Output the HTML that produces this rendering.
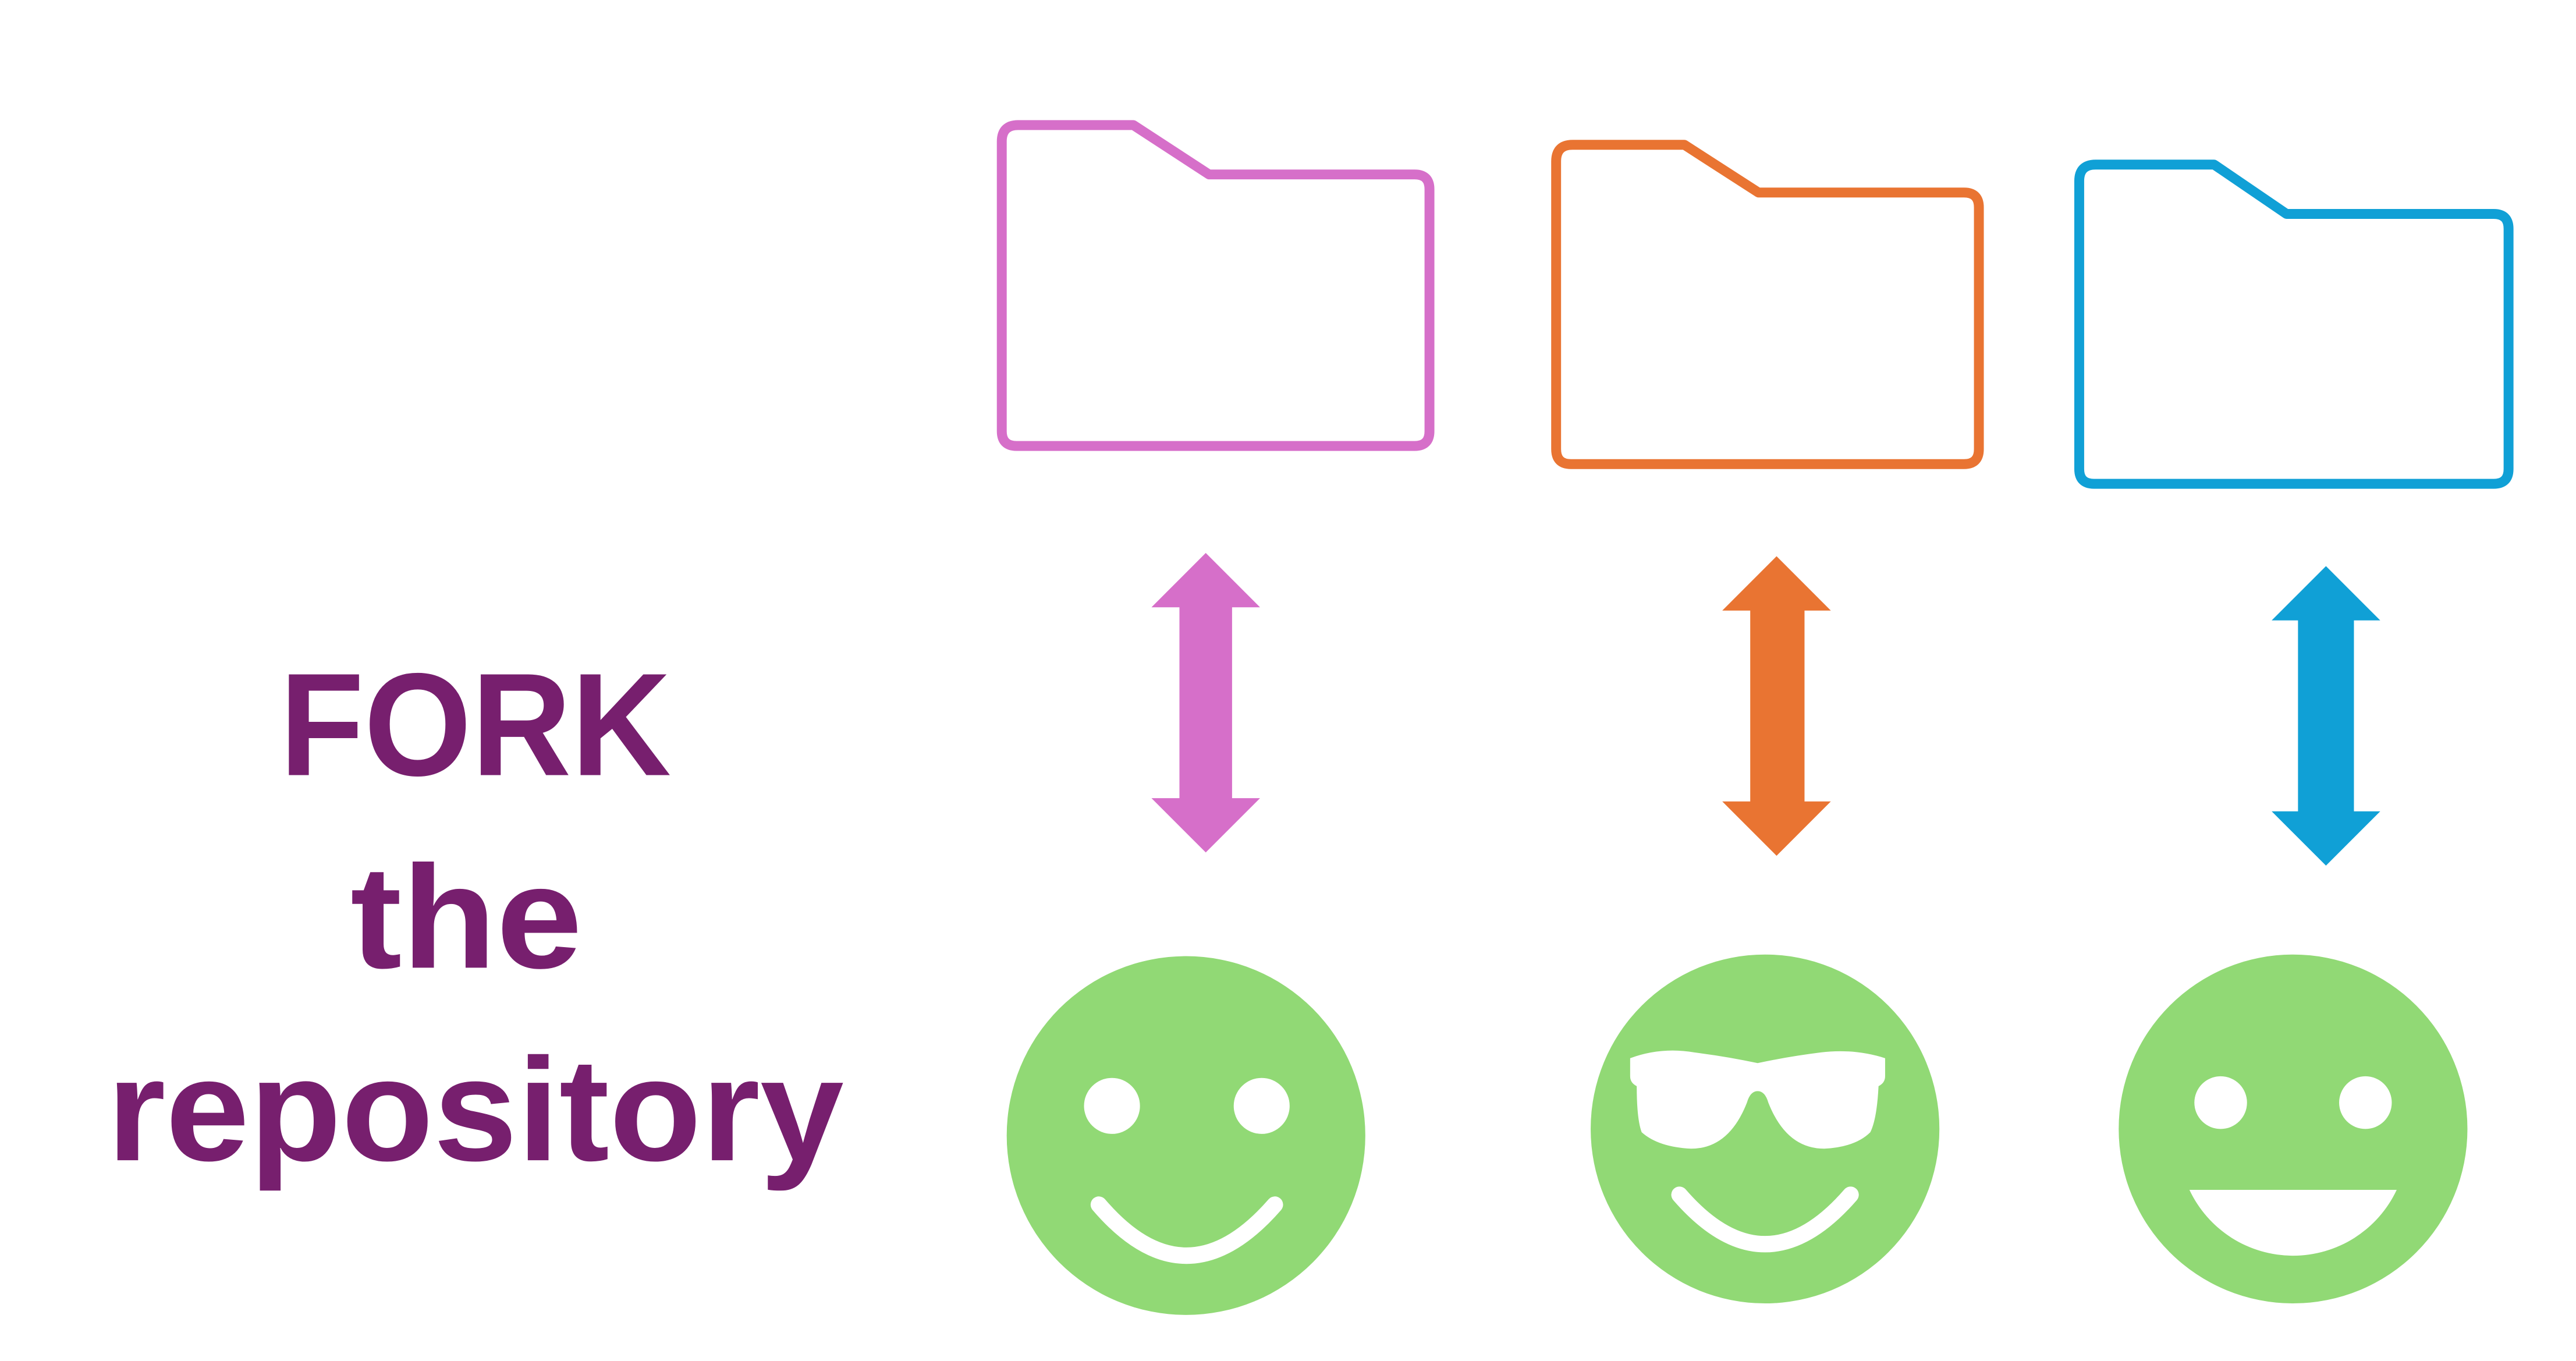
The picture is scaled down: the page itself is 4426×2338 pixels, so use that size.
<!DOCTYPE html>
<html><head><meta charset="utf-8"><style>
html,body{margin:0;padding:0;background:#fff;}
svg{display:block;width:4426px;height:2338px;}
</style></head><body>
<svg viewBox="0 0 1566 827" preserveAspectRatio="none" xmlns="http://www.w3.org/2000/svg">
<rect width="1566" height="827" fill="#fff"/>
<g fill="none" stroke-width="6" stroke-linejoin="round">
<path d="M609,86 Q609,76 619,76 L689,76 L735,106 L860,106 Q869,106 869,115 L869,262 Q869,271 860,271 L618,271 Q609,271 609,262 Z" stroke="#d66fc9"/>
<path d="M946,98 Q946,88 956,88 L1024,88 L1069,117 L1194,117 Q1203,117 1203,126 L1203,273 Q1203,282 1194,282 L955,282 Q946,282 946,273 Z" stroke="#e97432"/>
<path d="M1264,110 Q1264,100 1274,100 L1346,100 L1390,130 L1516,130 Q1525,130 1525,139 L1525,285 Q1525,294 1516,294 L1273,294 Q1264,294 1264,285 Z" stroke="#10a0d6"/>
</g>
<polygon fill="#d66fc9" points="733,336 766,369 749,369 749,485 766,485 733,518 700,485 717,485 717,369 700,369"/>
<polygon fill="#e97432" points="1080,338 1113,371 1097,371 1097,487 1113,487 1080,520 1047,487 1064,487 1064,371 1047,371"/>
<polygon fill="#10a0d6" points="1414,344 1447,377 1431,377 1431,493 1447,493 1414,526 1381,493 1397,493 1397,377 1381,377"/>
<circle cx="721" cy="690" r="109" fill="#91d975"/>
<circle cx="676" cy="672" r="17" fill="#fff"/>
<circle cx="767" cy="672" r="17" fill="#fff"/>
<path d="M668,732 Q721,794 775,732" fill="none" stroke="#fff" stroke-width="10" stroke-linecap="round"/>
<circle cx="1073" cy="686" r="106" fill="#91d975"/>
<path fill="#fff" d="M991,643 Q1010,636 1030,639.5 Q1050,642 1068.5,646 Q1087,642 1107,639.5 Q1127,637 1146,643 L1146,654 Q1146,658 1142,660 Q1141,680 1137,688 Q1128,697 1109,698 Q1086,698 1075,670 Q1073,663 1068.5,663 Q1064,663 1062,670 Q1051,698 1028,698 Q1008,697 998,688 Q995,680 995,660 Q991,658 991,654 Z"/>
<path d="M1021,726 Q1073,786 1125,726" fill="none" stroke="#fff" stroke-width="10" stroke-linecap="round"/>
<circle cx="1394" cy="686" r="106" fill="#91d975"/>
<circle cx="1350" cy="670" r="16" fill="#fff"/>
<circle cx="1438" cy="670" r="16" fill="#fff"/>
<path d="M1331,723 L1457,723 A69.6,69.6 0 0 1 1331,723 Z" fill="#fff"/>
<g fill="#771f6e" font-family="Liberation Sans, sans-serif" font-weight="bold" font-size="89">
<text x="170" y="471" textLength="238" lengthAdjust="spacingAndGlyphs">FORK</text>
<text x="213" y="588" textLength="141" lengthAdjust="spacingAndGlyphs">the</text>
<text x="65" y="705" textLength="448" lengthAdjust="spacingAndGlyphs">repository</text>
</g>
</svg>
</body></html>
